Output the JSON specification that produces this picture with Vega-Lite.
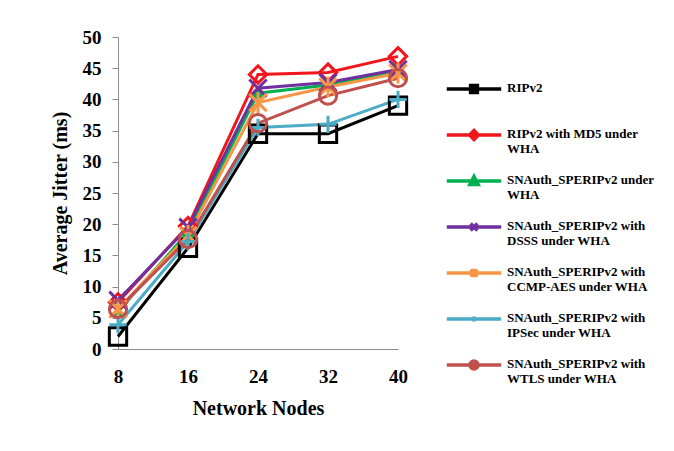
{
  "$schema": "https://vega.github.io/schema/vega-lite/v6.json",
  "width": 280,
  "height": 312,
  "padding": {"left": 50, "top": 28, "right": 5, "bottom": 5},
  "background": "white",
  "config": {"view": {"stroke": null}, "font": "Liberation Serif"},
  "data": {
    "values": [
      {"n": 8, "s": "RIPv2", "v": 2},
      {"n": 16, "s": "RIPv2", "v": 16.2},
      {"n": 24, "s": "RIPv2", "v": 34.5},
      {"n": 32, "s": "RIPv2", "v": 34.5},
      {"n": 40, "s": "RIPv2", "v": 39},
      {"n": 8, "s": "RIPv2 with MD5 under WHA", "v": 7.5},
      {"n": 16, "s": "RIPv2 with MD5 under WHA", "v": 19.7},
      {"n": 24, "s": "RIPv2 with MD5 under WHA", "v": 44},
      {"n": 32, "s": "RIPv2 with MD5 under WHA", "v": 44.3},
      {"n": 40, "s": "RIPv2 with MD5 under WHA", "v": 46.9},
      {"n": 8, "s": "SNAuth_SPERIPv2 under WHA", "v": 6},
      {"n": 16, "s": "SNAuth_SPERIPv2 under WHA", "v": 18.7},
      {"n": 24, "s": "SNAuth_SPERIPv2 under WHA", "v": 41},
      {"n": 32, "s": "SNAuth_SPERIPv2 under WHA", "v": 42.3},
      {"n": 40, "s": "SNAuth_SPERIPv2 under WHA", "v": 44.6},
      {"n": 8, "s": "SNAuth_SPERIPv2 with DSSS under WHA", "v": 7.8},
      {"n": 16, "s": "SNAuth_SPERIPv2 with DSSS under WHA", "v": 19.5},
      {"n": 24, "s": "SNAuth_SPERIPv2 with DSSS under WHA", "v": 41.8},
      {"n": 32, "s": "SNAuth_SPERIPv2 with DSSS under WHA", "v": 42.7},
      {"n": 40, "s": "SNAuth_SPERIPv2 with DSSS under WHA", "v": 44.8},
      {"n": 8, "s": "SNAuth_SPERIPv2 with CCMP-AES under WHA", "v": 6.4},
      {"n": 16, "s": "SNAuth_SPERIPv2 with CCMP-AES under WHA", "v": 18.2},
      {"n": 24, "s": "SNAuth_SPERIPv2 with CCMP-AES under WHA", "v": 39.5},
      {"n": 32, "s": "SNAuth_SPERIPv2 with CCMP-AES under WHA", "v": 42},
      {"n": 40, "s": "SNAuth_SPERIPv2 with CCMP-AES under WHA", "v": 44.2},
      {"n": 8, "s": "SNAuth_SPERIPv2 with IPSec under WHA", "v": 3.9},
      {"n": 16, "s": "SNAuth_SPERIPv2 with IPSec under WHA", "v": 17.2},
      {"n": 24, "s": "SNAuth_SPERIPv2 with IPSec under WHA", "v": 35.5},
      {"n": 32, "s": "SNAuth_SPERIPv2 with IPSec under WHA", "v": 36},
      {"n": 40, "s": "SNAuth_SPERIPv2 with IPSec under WHA", "v": 40},
      {"n": 8, "s": "SNAuth_SPERIPv2 with WTLS under WHA", "v": 6.4},
      {"n": 16, "s": "SNAuth_SPERIPv2 with WTLS under WHA", "v": 17.6},
      {"n": 24, "s": "SNAuth_SPERIPv2 with WTLS under WHA", "v": 36.2},
      {"n": 32, "s": "SNAuth_SPERIPv2 with WTLS under WHA", "v": 40.6},
      {"n": 40, "s": "SNAuth_SPERIPv2 with WTLS under WHA", "v": 43.4}
    ]
  },
  "encoding": {
    "x": {
      "field": "n",
      "type": "quantitative",
      "scale": {"domain": [8, 40], "nice": false, "zero": false},
      "axis": {
        "values": [8, 16, 24, 32, 40],
        "title": "Network Nodes",
        "titleFont": "Liberation Serif",
        "titleFontSize": 20,
        "titleFontWeight": "bold",
        "titleColor": "black",
        "titlePadding": 12,
        "labelFont": "Liberation Serif",
        "labelFontSize": 19,
        "labelFontWeight": "bold",
        "labelColor": "black",
        "labelPadding": 18,
        "labelFlush": false,
        "ticks": false,
        "grid": false,
        "domainColor": "#8c8c8c",
        "domainWidth": 1
      }
    },
    "y": {
      "field": "v",
      "type": "quantitative",
      "scale": {"domain": [0, 50], "nice": false},
      "axis": {
        "values": [0, 5, 10, 15, 20, 25, 30, 35, 40, 45, 50],
        "title": "Average Jitter (ms)",
        "titleFont": "Liberation Serif",
        "titleFontSize": 20,
        "titleFontWeight": "bold",
        "titleColor": "black",
        "titlePadding": 12,
        "labelFont": "Liberation Serif",
        "labelFontSize": 19,
        "labelFontWeight": "bold",
        "labelColor": "black",
        "labelPadding": 11,
        "labelFlush": false,
        "tickSize": 6,
        "tickColor": "#8c8c8c",
        "grid": false,
        "domainColor": "#8c8c8c",
        "domainWidth": 1
      }
    }
  },
  "layer": [
    {
      "mark": {"type": "line", "strokeWidth": 3},
      "encoding": {
        "color": {
          "field": "s",
          "type": "nominal",
          "scale": {
            "domain": ["RIPv2", "RIPv2 with MD5 under WHA", "SNAuth_SPERIPv2 under WHA", "SNAuth_SPERIPv2 with DSSS under WHA", "SNAuth_SPERIPv2 with CCMP-AES under WHA", "SNAuth_SPERIPv2 with IPSec under WHA", "SNAuth_SPERIPv2 with WTLS under WHA"],
            "range": ["#000000", "#F0161C", "#00B050", "#7030A0", "#F79646", "#4BACC6", "#C0504D"]
          },
          "legend": {
            "title": null,
            "orient": "none",
            "legendX": 337,
            "legendY": 33,
            "symbolSize": 1156,
            "gridAlign": "all",
            "labelFont": "Liberation Serif",
            "labelFontSize": 13,
            "labelFontWeight": "bold",
            "labelColor": "black",
            "labelLimit": 300,
            "labelOffset": 14,
            "labelBaseline": "top",
            "rowPadding": 6,
            "labelExpr": "datum.label == 'RIPv2' ? datum.label : indexof(datum.label, 'SNAuth_SPERIPv2 with ') == 0 ? ['SNAuth_SPERIPv2 with', substring(datum.label, 21)] : [substring(datum.label, 0, length(datum.label) - 4), 'WHA']",
            "encode": {
              "symbols": {
                "update": {
                  "shape": {"signal": "datum.value == 'RIPv2' ? 'M-1.6,0H1.6M-0.2,-0.2H0.2V0.2H-0.2Z' : datum.value == 'RIPv2 with MD5 under WHA' ? 'M-1.6,0H1.6M0,-0.26L0.26,0L0,0.26L-0.26,0Z' : datum.value == 'SNAuth_SPERIPv2 under WHA' ? 'M-1.6,0H1.6M0,-0.26L0.24,0.2H-0.24Z' : datum.value == 'SNAuth_SPERIPv2 with DSSS under WHA' ? 'M-1.6,0H1.6M-0.2,-0.2L0.2,0.2M-0.2,0.2L0.2,-0.2' : datum.value == 'SNAuth_SPERIPv2 with CCMP-AES under WHA' ? 'M-1.6,0H1.6M-0.2,-0.2L0.2,0.2M-0.2,0.2L0.2,-0.2M0,-0.25V0.25' : datum.value == 'SNAuth_SPERIPv2 with IPSec under WHA' ? 'M-1.6,0H1.6M0,-0.15V0.15' : 'M-1.6,0H1.6M-0.24,0A0.24,0.24 0 1,0 0.24,0A0.24,0.24 0 1,0 -0.24,0Z'"},
                  "fill": {"scale": "color", "field": "value"},
                  "stroke": {"scale": "color", "field": "value"},
                  "strokeWidth": {"value": 3.5},
                  "opacity": {"value": 1}
                }
              },
              "labels": {
                "update": {
                  "dy": {"value": -7},
                  "lineHeight": {"value": 15}
                }
              }
            }
          }
        }
      }
    },
    {
      "mark": {"type": "point", "filled": false, "strokeWidth": 3, "opacity": 1},
      "encoding": {
        "stroke": {
          "field": "s",
          "type": "nominal",
          "scale": {
            "domain": ["RIPv2", "RIPv2 with MD5 under WHA", "SNAuth_SPERIPv2 under WHA", "SNAuth_SPERIPv2 with CCMP-AES under WHA", "SNAuth_SPERIPv2 with DSSS under WHA", "SNAuth_SPERIPv2 with IPSec under WHA", "SNAuth_SPERIPv2 with WTLS under WHA"],
            "range": ["#000000", "#F0161C", "#00B050", "#F79646", "#7030A0", "#4BACC6", "#C0504D"]
          },
          "legend": null
        },
        "shape": {
          "field": "s",
          "type": "nominal",
          "scale": {
            "domain": ["RIPv2", "RIPv2 with MD5 under WHA", "SNAuth_SPERIPv2 under WHA", "SNAuth_SPERIPv2 with CCMP-AES under WHA", "SNAuth_SPERIPv2 with DSSS under WHA", "SNAuth_SPERIPv2 with IPSec under WHA", "SNAuth_SPERIPv2 with WTLS under WHA"],
            "range": ["square", "diamond", "triangle-up", "M-1,-1L1,1M-1,1L1,-1M0,-1.2V1.2", "M-1,-1L1,1M-1,1L1,-1", "M-1,0H1M0,-1V1", "circle"]
          },
          "legend": null
        },
        "size": {
          "condition": {"test": "datum.s == 'SNAuth_SPERIPv2 under WHA'", "value": 70},
          "value": 300
        },
        "fill": {
          "condition": {"test": "datum.s == 'SNAuth_SPERIPv2 under WHA'", "value": "#00B050"},
          "value": "transparent"
        }
      }
    }
  ]
}
